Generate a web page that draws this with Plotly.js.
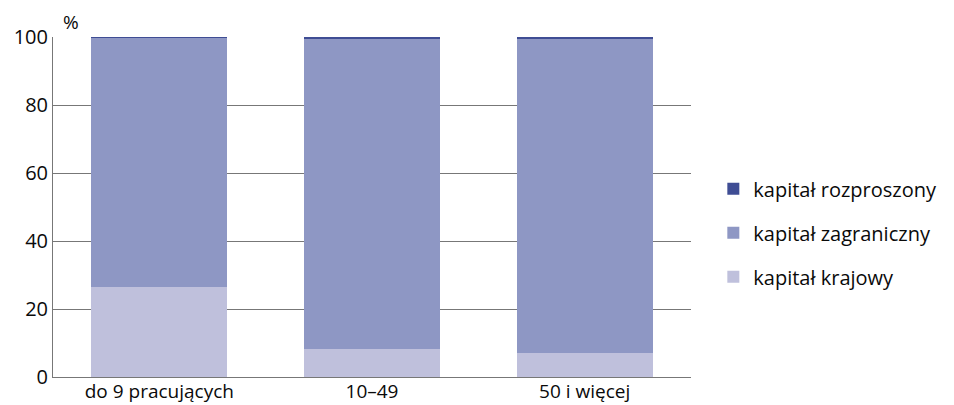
<!DOCTYPE html>
<html><head><meta charset="utf-8">
<script src="https://cdn.plot.ly/plotly-3.0.1.min.js"></script>
<style>body{margin:0;background:#fff}#c{width:954px;height:405px}</style>
</head><body><div id="c"></div>
<script>
var categories = ["do 9 pracujących", "10–49", "50 i więcej"];
var krajowy = [26.4, 8.2, 7.1];
var zagraniczny = [73.4, 91.4, 92.2];
var rozproszony = [0.2, 0.4, 0.7];
var seriesNames = ["kapitał krajowy", "kapitał zagraniczny", "kapitał rozproszony"];
var yTicks = [0, 20, 40, 60, 80, 100];

var font = "Open Sans, sans-serif";
var traces = [
  {type:'bar', x:categories, y:krajowy, name:seriesNames[0], marker:{color:'#bfc0dc'}, legendgroup:'a', legendrank:3},
  {type:'bar', x:categories, y:zagraniczny, name:seriesNames[1], marker:{color:'#8e97c4'}, legendgroup:'b', legendrank:2},
  {type:'bar', x:categories, y:rozproszony, name:seriesNames[2], marker:{color:'#3f4d94'}, legendgroup:'c', legendrank:1}
];
var layout = {
  width:954, height:405,
  margin:{l:53, r:257, t:37, b:28},
  barmode:'stack', bargap:0.36,
  paper_bgcolor:'#fff', plot_bgcolor:'#fff',
  font:{family:font, size:20, color:'#0a0a0a'},
  xaxis:{showline:true, linecolor:'#777', linewidth:1, ticks:'', showgrid:false, tickfont:{size:19, color:'#0a0a0a'}, automargin:false, ticklabelstandoff:-3},
  yaxis:{range:[0,100], tickvals:yTicks, showline:true, linecolor:'#777', linewidth:1,
         showgrid:true, gridcolor:'#777', gridwidth:1, zeroline:false, ticks:'', tickfont:{size:20, color:'#0a0a0a'}, automargin:false},
  legend:{x:1.035, y:0.424, xanchor:'left', yanchor:'middle', traceorder:'grouped',
          tracegroupgap:15, font:{size:20, color:'#0a0a0a'}, itemwidth:30},
  annotations:[{xref:'paper', yref:'paper', x:0.012, y:1, xanchor:'left', yanchor:'bottom',
                text:'%', showarrow:false, font:{size:19, color:'#0a0a0a'}}],
  showlegend:true
};
Plotly.newPlot('c', traces, layout, {displayModeBar:false});
</script></body></html>
